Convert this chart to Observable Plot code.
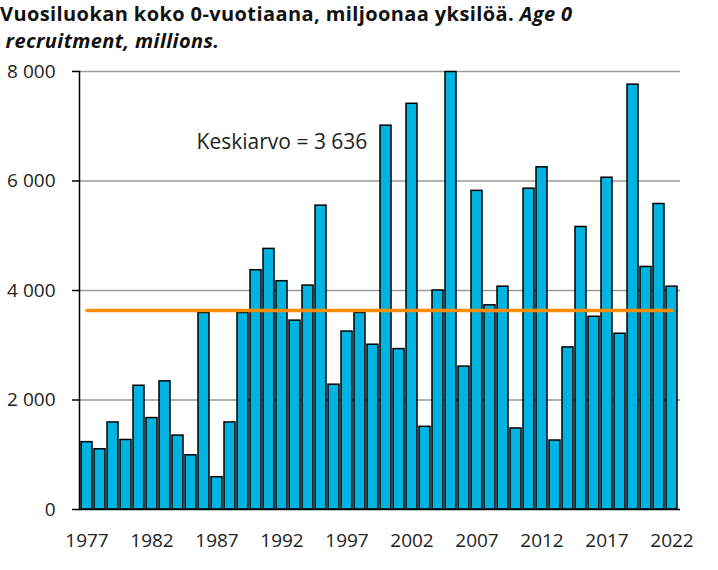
<!DOCTYPE html>
<html>
<head>
<meta charset="utf-8">
<script src="https://cdn.jsdelivr.net/npm/d3@7"></script>
<script src="https://cdn.jsdelivr.net/npm/@observablehq/plot@0.6"></script>
<style>
  html, body { margin: 0; padding: 0; background: #fff; }
  body { width: 718px; height: 570px; overflow: hidden; font-family: "Open Sans", sans-serif; }
  #title { position: relative; height: 55px; color: #111; font-weight: bold; font-size: 20px; letter-spacing: 0.4px; line-height: 1; }
  #title .l1 { position: absolute; left: 0; top: 4px; white-space: nowrap; }
  #title .l2 { position: absolute; left: 0; top: 31px; white-space: nowrap; }
  #chart svg { display: block; }
</style>
</head>
<body>
<div id="title"></div>
<div id="chart"></div>
<script>
const titleLine1 = "Vuosiluokan koko 0-vuotiaana, miljoonaa yksilöä.";
const titleLine1Italic = "Age 0";
const titleLine2Italic = "recruitment, millions.";

const years = [1977,1978,1979,1980,1981,1982,1983,1984,1985,1986,1987,1988,1989,1990,1991,1992,1993,1994,1995,1996,1997,1998,1999,2000,2001,2002,2003,2004,2005,2006,2007,2008,2009,2010,2011,2012,2013,2014,2015,2016,2017,2018,2019,2020,2021,2022];
const recruitment = [1230,1100,1590,1270,2260,1670,2340,1350,990,3590,590,1590,3590,4370,4760,4170,3450,4090,5550,2280,3250,3590,3010,7010,2930,7410,1510,4000,7990,2610,5820,3730,4070,1480,5860,6250,1260,2960,5160,3520,6060,3210,7760,4430,5580,4070];

const yTicks = [0, 2000, 4000, 6000, 8000];
const yTickLabels = ["0", "2 000", "4 000", "6 000", "8 000"];
const xTickYears = [1977, 1982, 1987, 1992, 1997, 2002, 2007, 2012, 2017, 2022];

const meanValue = 3636;
const meanLabel = "Keskiarvo = 3 636";
const meanLabelYear = 1992;
const meanLabelValue = 6700;

document.getElementById("title").innerHTML =
  `<div class="l1">${titleLine1} <i>${titleLine1Italic}</i></div>` +
  `<div class="l2">&nbsp;<i>${titleLine2Italic}</i></div>`;

const data = years.map((year, i) => ({year, value: recruitment[i]}));
const meanData = [
  {year: years[0], value: meanValue},
  {year: years[years.length - 1], value: meanValue}
];

const chart = Plot.plot({
  width: 718,
  height: 515,
  marginTop: 16,
  marginBottom: 61,
  marginLeft: 79,
  marginRight: 38,
  style: {fontFamily: "Open Sans, sans-serif", fontSize: "19px", color: "#222", background: "#fff"},
  x: {type: "band", domain: years, padding: 0.15, axis: null, label: null},
  y: {domain: [0, 8000], axis: null, label: null},
  marks: [
    Plot.ruleY(yTicks.filter(d => d > 0), {stroke: "#9a9a9a", strokeWidth: 1.6}),
    Plot.barY(data, {x: "year", y: "value", fill: "#00b4e2", stroke: "#000", strokeWidth: 1.5}),
    Plot.ruleY([0], {stroke: "#000", strokeWidth: 1.5}),
    Plot.frame({anchor: "left", stroke: "#000", strokeWidth: 1.5}),
    Plot.axisY(yTicks, {
      tickSize: 7, tickPadding: 17, stroke: "#000", strokeWidth: 1.5, label: null,
      tickFormat: d => yTickLabels[yTicks.indexOf(d)],
      fontSize: 19, fill: "#222"
    }),
    Plot.axisX(xTickYears, {tickSize: 0, tickPadding: 24, fontSize: 19, fill: "#222", label: null, tickFormat: d => String(d)}),
    Plot.line(meanData, {x: "year", y: "value", stroke: "#ff8c00", strokeWidth: 3.5}),
    Plot.text([{year: meanLabelYear, value: meanLabelValue, label: meanLabel}], {
      x: "year", y: "value", text: "label", fontSize: 21, fill: "#222", textAnchor: "middle"
    })
  ]
});
document.getElementById("chart").appendChild(chart);
</script>
</body>
</html>
